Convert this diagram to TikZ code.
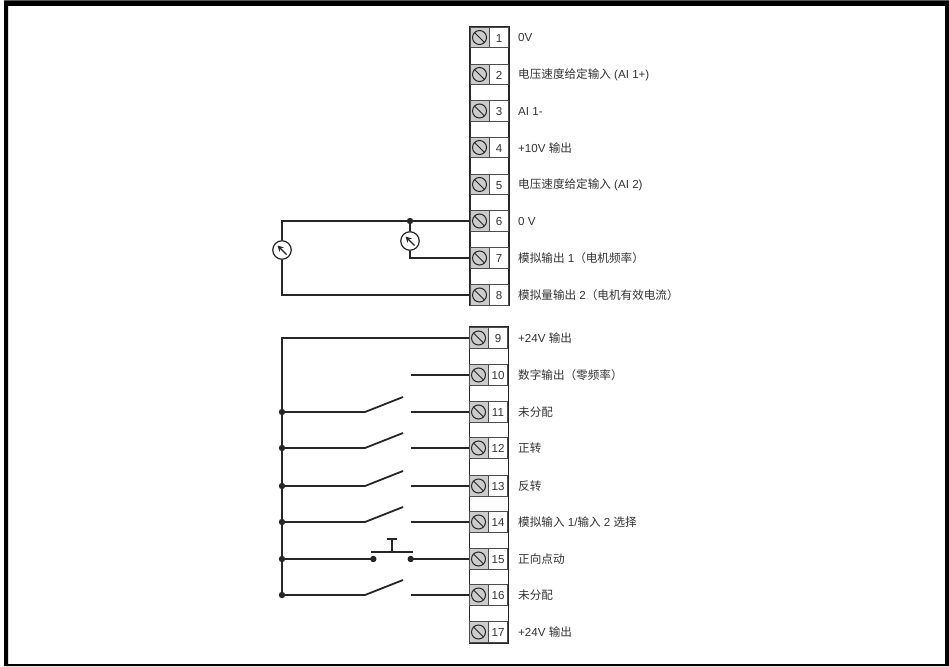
\documentclass[tikz,border=0pt]{standalone}
\usepackage{fontspec}
\setmainfont{Liberation Sans}
\newfontfamily\cjk{Noto Sans CJK SC}
\usetikzlibrary{calc,arrows.meta}
\tikzset{
  x=1pt,y=-1pt,
  wire/.style={draw=black!85,line width=1.8pt},
  dotn/.style={circle,fill=black!85,inner sep=0pt,minimum size=6.4pt},
  meter/.style={circle,draw=black!85,line width=1.2pt,fill=white,inner sep=0pt,minimum size=18.5pt},
  lab/.style={anchor=west,inner sep=0pt,font=\fontsize{11.6pt}{13pt}\selectfont,text=black!80},
  num/.style={inner sep=0pt,font=\fontsize{11.6pt}{13pt}\selectfont,text=black!80},
  screwcell/.style={draw=black!70,line width=1pt,fill=black!20,minimum width=19pt,minimum height=20.5pt,inner sep=0pt},
  numcell/.style={draw=black!70,line width=1pt,fill=white,minimum width=18.5pt,minimum height=20.5pt,inner sep=0pt},
  blockbox/.style={draw=black!85,line width=1.5pt,fill=white,inner sep=0pt}
}
\newcommand{\terminal}[4]{% number, x-left, y-centre, label
  \node[screwcell] (s#1) at (#2+9.5,#3) {};
  \node[numcell] (n#1) at (#2+29,#3) {};
  \node[num] (t#1) at ($(n#1.center)+(0,0.7)$) {#1};
  \draw[black!85,line width=1pt] (s#1.center) circle (7pt);
  \draw[black!85,line width=1pt] ($(s#1.center)+(-4.9,-4.9)$) -- ($(s#1.center)+(4.9,4.9)$);
  \node[lab] (l#1) at (518,#3+.5) {#4};
}
\newcommand{\needle}[1]{%
  \draw[black!85,line width=1.3pt,-{Stealth[length=6pt,width=6pt]}] ($(#1.center)+(4.5,4.5)$) -- ($(#1.center)+(-4.5,-4.5)$);
}
\begin{document}
\begin{tikzpicture}
\useasboundingbox (0,0) rectangle (949,666);
\fill[white] (0,0) rectangle (949,666);
% frame
\fill[black,even odd rule] (4,0.5) rectangle (949,666) (8,6) rectangle (945,664);
% blocks
\node[blockbox,minimum width=39pt,minimum height=278pt] (blockA) at (489.5,166) {};
\node[blockbox,minimum width=39pt,minimum height=316pt] (blockB) at (489,485) {};
\terminal{1}{470}{37.5}{0V}
\terminal{2}{470}{74.5}{{\cjk 电压速度给定输入} (AI 1+)}
\terminal{3}{470}{111}{AI 1-}
\terminal{4}{470}{147.5}{+10V {\cjk 输出}}
\terminal{5}{470}{184.5}{{\cjk 电压速度给定输入} (AI 2)}
\terminal{6}{470}{221}{0 V}
\terminal{7}{470}{258}{{\cjk 模拟输出} 1{\cjk （电机频率）}}
\terminal{8}{470}{295}{{\cjk 模拟量输出} 2{\cjk （电机有效电流）}}
\terminal{9}{469}{338}{+24V {\cjk 输出}}
\terminal{10}{469}{375}{{\cjk 数字输出（零频率）}}
\terminal{11}{469}{412}{{\cjk 未分配}}
\terminal{12}{469}{448}{{\cjk 正转}}
\terminal{13}{469}{486}{{\cjk 反转}}
\terminal{14}{469}{522}{{\cjk 模拟输入} 1/{\cjk 输入} 2 {\cjk 选择}}
\terminal{15}{469}{559}{{\cjk 正向点动}}
\terminal{16}{469}{595}{{\cjk 未分配}}
\terminal{17}{469}{632}{+24V {\cjk 输出}}
% meters
\node[dotn] (j6) at (410,221) {};
\node[meter] (m1) at (282,250) {};
\node[meter] (m2) at (410,241) {};
\needle{m1}\needle{m2}
\draw[wire] (s6.west) -- (j6.center) -- (282,221) -- (m1.north);
\draw[wire] (m1.south) -- (282,295) -- (s8.west);
\draw[wire] (j6) -- (m2.north);
\draw[wire] (m2.south) -- (410,258) -- (s7.west);
% switches
\coordinate (busT) at (282,338);
\node[dotn] (b11) at (282,412) {};
\node[dotn] (b12) at (282,448) {};
\node[dotn] (b13) at (282,486) {};
\node[dotn] (b14) at (282,522) {};
\node[dotn] (b15) at (282,559) {};
\node[dotn] (b16) at (282,595) {};
\draw[wire] (s9.west) -- (busT) -- (b16.center);
\coordinate (o10) at (411,375);
\draw[wire] (o10) -- (s10.west);
\foreach \n/\y in {11/412,12/448,13/486,14/522,16/595}{
  \coordinate (p\n) at (365,\y);
  \coordinate (q\n) at (403,\y-15);
  \coordinate (r\n) at (411,\y);
  \draw[wire] (b\n.center) -- (p\n) -- (q\n);
  \draw[wire] (r\n) -- (s\n.west);
}
% push button
\node[dotn] (c1) at (373.3,559) {};
\node[dotn] (c2) at (410.7,559) {};
\draw[wire] (b15.center) -- (c1.center);
\draw[wire] (c2.center) -- (s15.west);
\coordinate (bar1) at (371,552);
\coordinate (bar2) at (413,552);
\coordinate (barm) at (392,552);
\coordinate (stem) at (392,539);
\coordinate (cap1) at (387,539);
\coordinate (cap2) at (397,539);
\draw[wire] (bar1) -- (bar2);
\draw[wire] (barm) -- (stem);
\draw[wire] (cap1) -- (cap2);
\end{tikzpicture}
\end{document}
